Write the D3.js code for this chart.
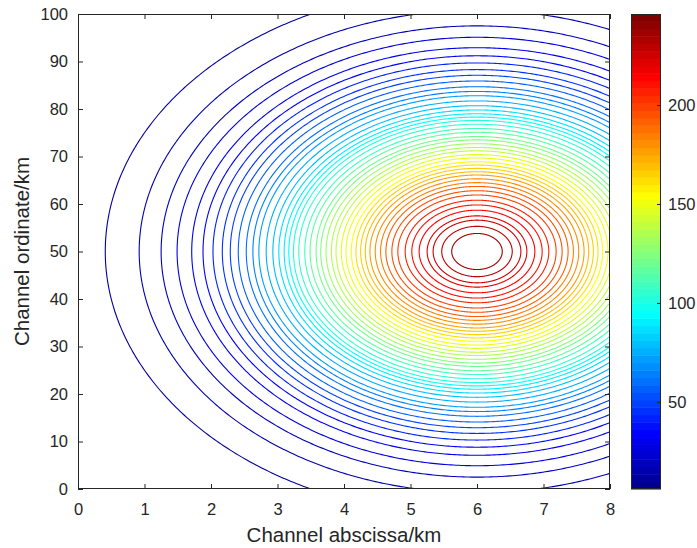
<!DOCTYPE html>
<html><head><meta charset="utf-8">
<script src="https://cdn.jsdelivr.net/npm/d3@7/dist/d3.min.js"></script>
<style>
body{margin:0;background:#fff}
text{font-family:Arial,"Liberation Sans",Helvetica,sans-serif;fill:#262626}
</style>
</head><body>
<svg id="c" width="697" height="548"></svg>
<script>
// ---------- data ----------
const xTicks = [0,1,2,3,4,5,6,7,8];
const yTicks = [0,10,20,30,40,50,60,70,80,90,100];
const colorbarTicks = [50,100,150,200];
const xDomain = [0,8];
const yDomain = [0,100];
const colorLimits = [6,246];
const peakCenter = [6,50];          // centre of the closed contours (km)
const verticalStretch = 10;         // ry / rx of every contour (data units)
const contourLevels = [10,15,20,25,30,35,40,45,50,55,60,65,70,75,80,85,90,95,100,105,110,115,120,125,130,135,140,145,150,155,160,165,170,175,180,185,190,195,200,205,210,215,220,225,230,235];
// x (km) where each contour crosses the line y = 50, left of the centre
const contourLeftX = [0.41,0.92,1.25,1.49,1.71,1.88,2.03,2.17,2.29,2.41,2.53,2.63,2.72,2.83,2.93,3.02,3.10,3.17,3.24,3.32,3.41,3.49,3.58,3.65,3.73,3.81,3.88,3.96,4.03,4.11,4.18,4.25,4.32,4.39,4.47,4.55,4.63,4.72,4.81,4.92,5.02,5.13,5.25,5.34,5.47,5.62];
const xLabel = "Channel abscissa/km";
const yLabel = "Channel ordinate/km";

// ---------- layout ----------
const P = {l:78, r:610, t:14, b:489};
const CB = {l:631, r:661};
const axisColor = "#262626";
const tickFont = 16.5;
const labelFont = 20.5;

// MATLAB jet(64)
const nColors = 64;
function jet(t){
  const c = v => Math.max(0, Math.min(1, v));
  return d3.rgb(255*c(1.5-Math.abs(4*t-3)), 255*c(1.5-Math.abs(4*t-2)), 255*c(1.5-Math.abs(4*t-1)));
}
function colorOf(v){
  let i = Math.floor((v-colorLimits[0])/(colorLimits[1]-colorLimits[0])*nColors)+1;
  i = Math.max(1, Math.min(nColors, i));
  return jet(i/nColors).formatHex();
}

const svg = d3.select("#c");
const x = d3.scaleLinear().domain(xDomain).range([P.l,P.r]);
const y = d3.scaleLinear().domain(yDomain).range([P.b,P.t]);

svg.append("defs").append("clipPath").attr("id","clip")
  .append("rect").attr("x",P.l).attr("y",P.t).attr("width",P.r-P.l).attr("height",P.b-P.t);

// contours
const line = d3.line().x(d=>x(d[0])).y(d=>y(d[1])).curve(d3.curveLinearClosed);
const angles = d3.range(0, 720).map(i => i/720*2*Math.PI);
const contours = contourLevels.map((lv,i) => {
  const rx = peakCenter[0]-contourLeftX[i];
  const ry = rx*verticalStretch;
  return {level:lv, pts: angles.map(a => [peakCenter[0]+rx*Math.cos(a), peakCenter[1]+ry*Math.sin(a)])};
});
svg.append("g").attr("clip-path","url(#clip)")
  .selectAll("path").data(contours).join("path")
  .attr("d", d=>line(d.pts))
  .attr("fill","none")
  .attr("stroke", d=>colorOf(d.level))
  .attr("stroke-width",1.1);

// axes
function styleAxis(g){
  g.selectAll("path.domain").remove();
  g.selectAll("line").attr("stroke",axisColor);
  g.selectAll("text").attr("font-size",tickFont).style("fill",axisColor);
}
svg.append("g").attr("transform",`translate(0,${P.b})`)
  .call(d3.axisBottom(x).tickValues(xTicks).tickFormat(d3.format("d")).tickSize(-5).tickPadding(14)).call(styleAxis);
svg.append("g").attr("transform",`translate(0,${P.t})`)
  .call(d3.axisTop(x).tickValues(xTicks).tickSize(-5).tickFormat("")).call(styleAxis);
svg.append("g").attr("transform",`translate(${P.l},0)`)
  .call(d3.axisLeft(y).tickValues(yTicks).tickFormat(d3.format("d")).tickSize(-5).tickPadding(10)).call(styleAxis);
svg.append("g").attr("transform",`translate(${P.r},0)`)
  .call(d3.axisRight(y).tickValues(yTicks).tickSize(-5).tickFormat("")).call(styleAxis);
svg.append("rect").attr("x",P.l+0.5).attr("y",P.t+0.5).attr("width",P.r-P.l-1).attr("height",P.b-P.t-1)
  .attr("fill","none").attr("stroke",axisColor).attr("stroke-width",1);

// labels
svg.append("text").attr("x",(P.l+P.r)/2).attr("y",542).attr("text-anchor","middle")
  .attr("font-size",labelFont).text(xLabel);
svg.append("text").attr("transform",`translate(29,${(P.t+P.b)/2}) rotate(-90)`).attr("text-anchor","middle")
  .attr("font-size",labelFont).text(yLabel);

// colorbar
const cy = d3.scaleLinear().domain(colorLimits).range([P.b,P.t]);
const bands = d3.range(nColors).map(i => ({
  v0: colorLimits[0] + (colorLimits[1]-colorLimits[0])*i/nColors,
  v1: colorLimits[0] + (colorLimits[1]-colorLimits[0])*(i+1)/nColors,
  c: jet((i+1)/nColors).formatHex()
}));
svg.append("g").selectAll("rect").data(bands).join("rect")
  .attr("x",CB.l).attr("width",CB.r-CB.l)
  .attr("y",d=>cy(d.v1)).attr("height",d=>cy(d.v0)-cy(d.v1)+0.5)
  .attr("fill",d=>d.c);
svg.append("g").attr("transform",`translate(${CB.r},0)`)
  .call(d3.axisRight(cy).tickValues(colorbarTicks).tickFormat(d3.format("d")).tickSize(-4).tickPadding(7)).call(styleAxis);
svg.append("rect").attr("x",CB.l+0.5).attr("y",P.t+0.5).attr("width",CB.r-CB.l-1).attr("height",P.b-P.t-1)
  .attr("fill","none").attr("stroke",axisColor).attr("stroke-width",1);
</script>
</body></html>
